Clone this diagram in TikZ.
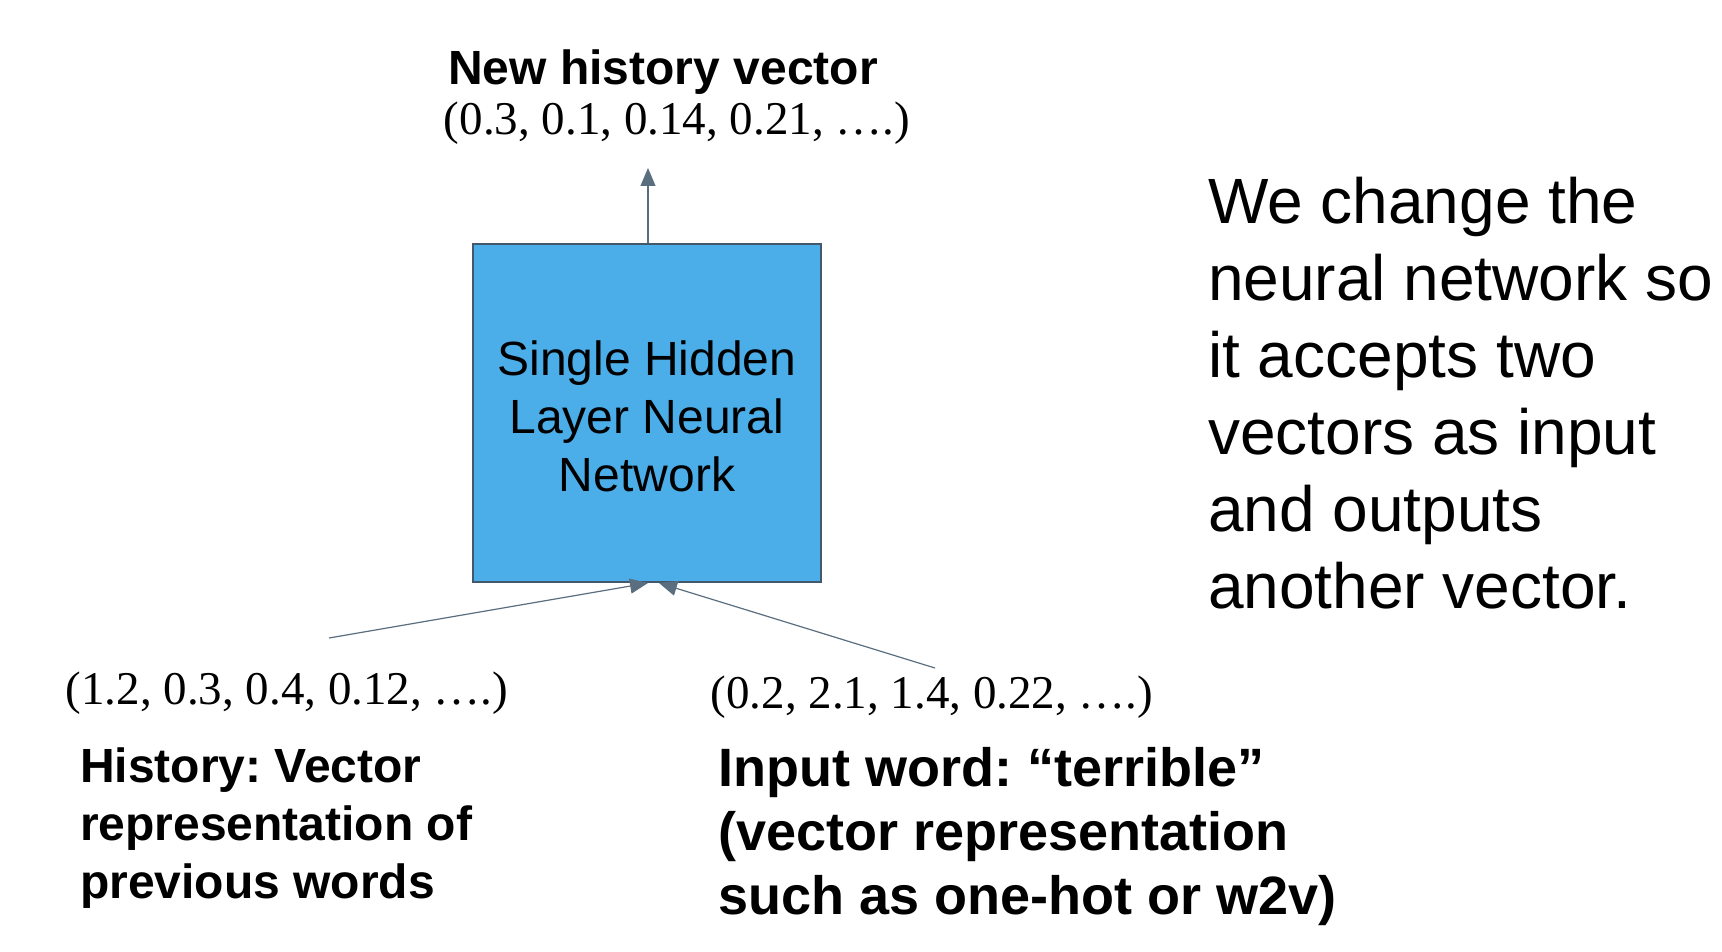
\documentclass[tikz,border=0pt]{standalone}
\usepackage{fontspec}
\setmainfont{Liberation Sans}
\newfontfamily\vecfont{Liberation Serif}
\usetikzlibrary{arrows.meta}
\definecolor{boxfill}{HTML}{4BAEE8}
\definecolor{boxline}{HTML}{41596B}
\definecolor{arrowc}{HTML}{5A6E7F}
\frenchspacing
\begin{document}
\begin{tikzpicture}[x=1pt,y=-1pt,
  conn/.style={draw=arrowc, line width=1.2pt, -{Triangle[length=18pt,width=15pt]}},
  head/.style={font=\fontsize{48}{58}\selectfont\bfseries, align=left},
  vec/.style={font=\vecfont\fontsize{47}{56}\selectfont},
  boxtext/.style={font=\fontsize{48}{58}\selectfont, align=center}]
\useasboundingbox (0,0) rectangle (1722,952);
\node[head, anchor=center] (newh) at (663,72) {New history vector};
\node[vec] (outv) at (677,123) {(0.3, 0.1, 0.14, 0.21, ….)};
\node[draw=boxline, line width=2pt, fill=boxfill, minimum width=348pt, minimum height=338pt] (nn) at (647,413) {};
\node[boxtext, text depth=0pt] (nntext) at (647,416) {Single Hidden\\Layer Neural\\Network};
\coordinate (outtip) at (648,168);
\coordinate (lin) at (329,638);
\coordinate (rin) at (935,668);
\coordinate (lend) at (648,583);
\coordinate (rend) at (659,583);
\draw[conn] (nn.north -| outtip) -- (outtip);
\draw[conn] (lin) -- (lend);
\draw[conn] (rin) -- (rend);
\node[vec] (histv) at (287,693) {(1.2, 0.3, 0.4, 0.12, ….)};
\node[vec] (inv) at (932,697) {(0.2, 2.1, 1.4, 0.22, ….)};
\node[head, anchor=north west, inner sep=0pt] (histl) at (80,748) {History: Vector\\representation of\\previous words};
\node[font=\fontsize{54}{64}\selectfont\bfseries, align=left, anchor=north west, inner sep=0pt] (inl) at (718,747) {Input word: “terrible”\\(vector representation\\such as one-hot or w2v)};
\node[font=\fontsize{64}{77}\selectfont, align=left, anchor=north west, inner sep=0pt] (expl) at (1208,177) {We change the\\neural network so\\it accepts two\\vectors as input\\and outputs\\another vector.};
\end{tikzpicture}
\end{document}
